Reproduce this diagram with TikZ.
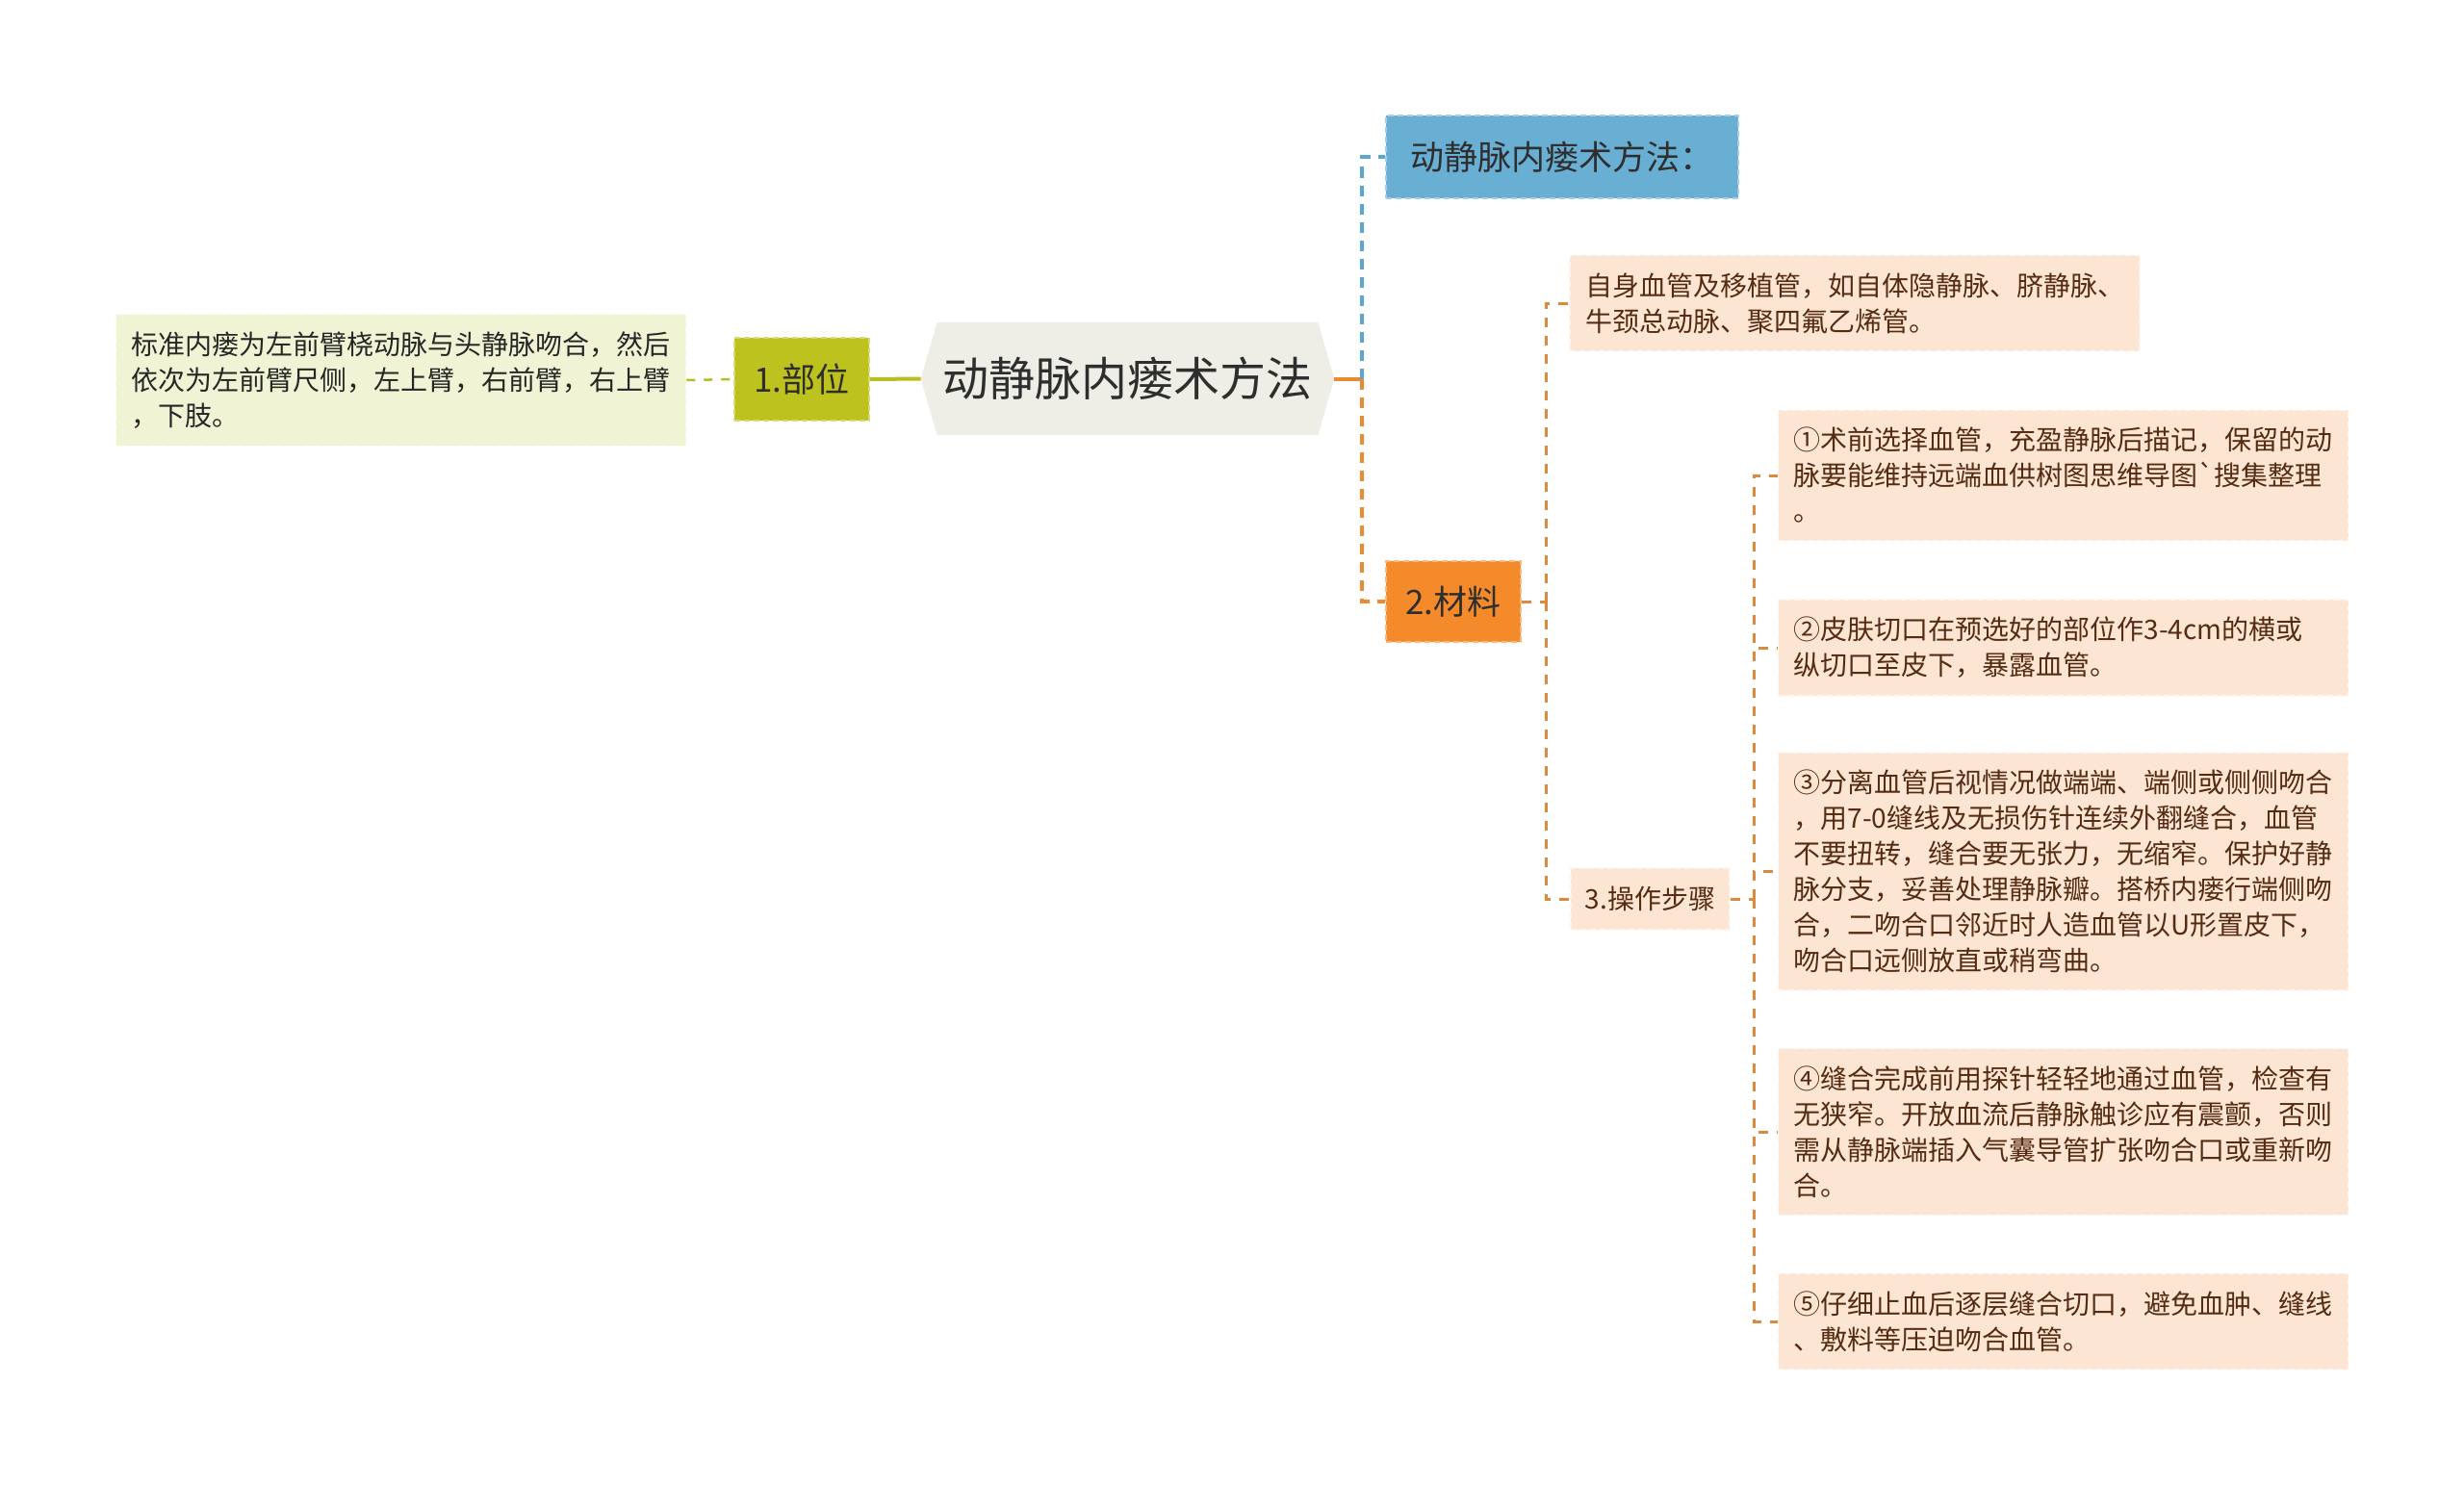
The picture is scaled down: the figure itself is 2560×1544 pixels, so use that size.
\documentclass[tikz,border=0pt]{standalone}
\usepackage{fontspec}
\newfontfamily\cjk{Noto Sans CJK SC}
\usetikzlibrary{shapes.symbols}

\definecolor{rootfill}{HTML}{EEEEE6}
\definecolor{olivefill}{HTML}{BDC21E}
\definecolor{palegreen}{HTML}{F0F3D4}
\definecolor{skyblue}{HTML}{69AED3}
\definecolor{orangefill}{HTML}{F48A2A}
\definecolor{peach}{HTML}{FDE5D4}
\definecolor{browntext}{HTML}{552C12}
\definecolor{darktext}{HTML}{2E2E2E}
\definecolor{linkblue}{HTML}{5AA6D1}
\definecolor{linkorange}{HTML}{EC8A30}
\definecolor{linkolive}{HTML}{B7BD22}
\definecolor{linkbrown}{HTML}{D98A3E}

\tikzset{
  box/.style={inner sep=0pt, draw, dash pattern=on 6pt off 4pt, line width=1.5pt},
  topic/.style={box, font=\cjk\fontsize{35}{42}\selectfont, text=darktext, minimum height=86pt},
  note/.style={box, fill=peach, draw=peach!40!white, text=browntext,
    font=\cjk\fontsize{28}{37}\selectfont, text width=560pt, align=left,
    inner xsep=16pt, inner ysep=18pt},
  link/.style={line width=4pt},
  twig/.style={line width=3pt, color=linkbrown, dash pattern=on 10pt off 9pt},
}

\begin{document}
\begin{tikzpicture}[x=1pt, y=-1pt]
  \fill[white] (0,0) rectangle (2560,1544);
  \useasboundingbox (0,0) rectangle (2560,1544);

  % centre
  \node[signal, signal from=nowhere, signal to=east and west, signal pointer angle=148,
        fill=rootfill, inner xsep=6pt, inner ysep=0pt, minimum height=117pt,
        text=darktext, font=\cjk\fontsize{48}{56}\selectfont] (root) at (1171.5,393.5) {动静脉内瘘术方法};

  % left branch
  \node[topic, fill=olivefill, draw=olivefill!60!white, minimum width=140pt] (site) at (833,394) {1.部位};
  \node[note, fill=palegreen, draw=palegreen!40!white, text=black!85] (sitenote) at (416.5,395)
    {标准内瘘为左前臂桡动脉与头静脉吻合，然后\\依次为左前臂尺侧，左上臂，右前臂，右上臂\\，下肢。};

  % right branches
  \node[topic, fill=skyblue, draw=skyblue!60!white, minimum width=366pt] (method) at (1623,163) {动静脉内瘘术方法：};
  \node[topic, fill=orangefill, draw=orangefill!60!white, minimum width=140pt, minimum height=84pt] (mat) at (1510,625) {2.材料};
  \node[note] (graft) at (1927,315)
    {自身血管及移植管，如自体隐静脉、脐静脉、\\牛颈总动脉、聚四氟乙烯管。};
  \node[box, fill=peach, draw=peach!40!white, text=browntext, font=\cjk\fontsize{28}{37}\selectfont,
        minimum width=165pt, minimum height=64pt] (steps) at (1714.5,934) {3.操作步骤};

  % steps
  \node[note] (s1) at (2143.5,494)
    {①术前选择血管，充盈静脉后描记，保留的动\\脉要能维持远端血供树图思维导图`搜集整理\\。};
  \node[note] (s2) at (2143.5,673)
    {②皮肤切口在预选好的部位作3-4cm的横或\\纵切口至皮下，暴露血管。};
  \node[note] (s3) at (2143.5,905.5)
    {③分离血管后视情况做端端、端侧或侧侧吻合\\，用7-0缝线及无损伤针连续外翻缝合，血管\\不要扭转，缝合要无张力，无缩窄。保护好静\\脉分支，妥善处理静脉瓣。搭桥内瘘行端侧吻\\合，二吻合口邻近时人造血管以U形置皮下，\\吻合口远侧放直或稍弯曲。};
  \node[note] (s4) at (2143.5,1176)
    {④缝合完成前用探针轻轻地通过血管，检查有\\无狭窄。开放血流后静脉触诊应有震颤，否则\\需从静脉端插入气囊导管扩张吻合口或重新吻\\合。};
  \node[note] (s5) at (2143.5,1373)
    {⑤仔细止血后逐层缝合切口，避免血肿、缝线\\、敷料等压迫吻合血管。};

  % connectors
  \coordinate (hubR) at (1415,393.5);
  \coordinate (hubM) at (1606,625);
  \coordinate (hubS) at (1822,934);

  \draw[link, linkolive] (site.east) -- (root.west);
  \draw[link, linkolive, line width=2.5pt, dash pattern=on 9pt off 9pt] (sitenote.east) -- (site.west);
  \draw[link, linkorange] (root.east) -- (hubR);
  \draw[link, linkblue, dash pattern=on 11pt off 8pt] (hubR) |- (method.west);
  \draw[link, linkorange, dash pattern=on 11pt off 8pt] (hubR) |- (mat.west);
  \draw[twig] (mat.east) -- (hubM);
  \draw[twig] (hubM) |- (graft.west);
  \draw[twig] (hubM) |- (steps.west);
  \draw[twig] (steps.east) -- (hubS);
  \foreach \k in {1,...,5}
    \draw[twig] (hubS) |- (s\k.west);
\end{tikzpicture}
\end{document}
